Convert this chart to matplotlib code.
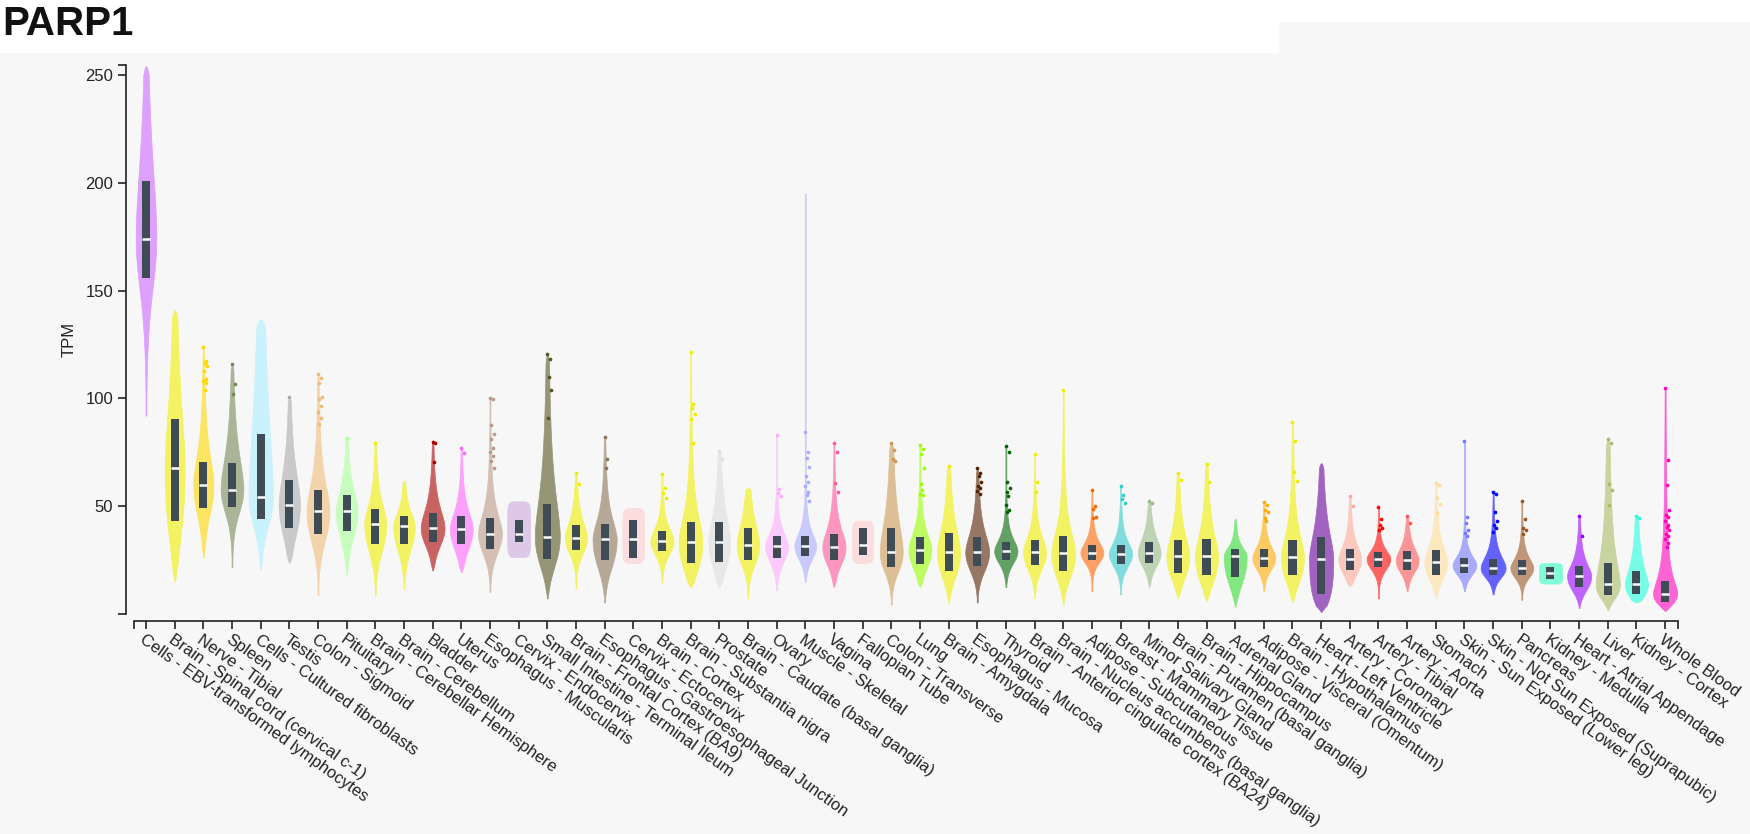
import numpy as np
import matplotlib
matplotlib.use("Agg")
import matplotlib.pyplot as plt
from matplotlib.patches import Rectangle
from matplotlib.colors import to_rgb

plt.rcParams['font.family'] = ['Liberation Sans', 'DejaVu Sans']

gene = "PARP1"

tissues = [
    "Cells - EBV-transformed lymphocytes", "Brain - Spinal cord (cervical c-1)", "Nerve - Tibial", "Spleen",
    "Cells - Cultured fibroblasts", "Testis", "Colon - Sigmoid", "Pituitary",
    "Brain - Cerebellar Hemisphere", "Brain - Cerebellum", "Bladder", "Uterus",
    "Esophagus - Muscularis", "Cervix - Endocervix", "Small Intestine - Terminal Ileum",
    "Brain - Frontal Cortex (BA9)", "Esophagus - Gastroesophageal Junction", "Cervix - Ectocervix",
    "Brain - Cortex", "Brain - Substantia nigra", "Prostate", "Brain - Caudate (basal ganglia)",
    "Ovary", "Muscle - Skeletal", "Vagina", "Fallopian Tube", "Colon - Transverse", "Lung",
    "Brain - Amygdala", "Esophagus - Mucosa", "Thyroid", "Brain - Anterior cingulate cortex (BA24)",
    "Brain - Nucleus accumbens (basal ganglia)", "Adipose - Subcutaneous", "Breast - Mammary Tissue",
    "Minor Salivary Gland", "Brain - Putamen (basal ganglia)", "Brain - Hippocampus", "Adrenal Gland",
    "Adipose - Visceral (Omentum)", "Brain - Hypothalamus", "Heart - Left Ventricle", "Artery - Coronary",
    "Artery - Tibial", "Artery - Aorta", "Stomach", "Skin - Sun Exposed (Lower leg)",
    "Skin - Not Sun Exposed (Suprapubic)", "Pancreas", "Kidney - Medulla", "Heart - Atrial Appendage",
    "Liver", "Kidney - Cortex", "Whole Blood",
]

colors = [
    "#CC66FF", "#EEEE00", "#FFD700", "#778855", "#AAEEFF", "#AAAAAA", "#EEBB77", "#AAFF99",
    "#EEEE00", "#EEEE00", "#AA0000", "#FF66FF", "#BB9988", "#CCAADD", "#555522", "#EEEE00",
    "#8B7355", "#FFCCCC", "#EEEE00", "#EEEE00", "#DDDDDD", "#EEEE00", "#FFAAFF", "#AAAAFF",
    "#FF5599", "#FFCCCC", "#CC9955", "#99FF00", "#EEEE00", "#552200", "#006600", "#EEEE00",
    "#EEEE00", "#FF6600", "#33CCCC", "#99BB88", "#EEEE00", "#EEEE00", "#33DD33", "#FFAA00",
    "#EEEE00", "#660099", "#FFAA99", "#FF0000", "#FF5555", "#FFDD99", "#7777FF", "#0000FF",
    "#995522", "#33FFC2", "#9900FF", "#AABB66", "#22FFDD", "#FF00BB",
]

# TPM values
tpm_min = [92, 15, 26.4, 21.8, 20.7, 23.7, 8.7, 18, 8.7, 11.8, 20.3, 19.5, 10.3, 26.4, 7.2, 11.8,
           5.4, 23.7, 14.6, 12.6, 12.6, 7.2, 11, 14.9, 12.6, 23.7, 4.4, 12.6, 4.9, 5.4, 12.6, 7.5,
           4.4, 10.6, 9.1, 12.6, 7.5, 6.0, 3.4, 10.6, 5.4, 1.0, 13.0, 7.2, 10.6, 7.5, 10.6, 9.1,
           6.6, 14.1, 2.9, 1.8, 5.4, 1.4]
tpm_q1 = [156, 43.3, 49, 49.5, 44.1, 39.8, 37.2, 38.4, 32.3, 32.3, 33.6, 32.3, 30.3, 33.6, 25.7, 29.8,
          24.9, 26.0, 29.1, 23.7, 24.2, 25.2, 26, 26.9, 24.9, 27.5, 21.8, 23.4, 20.0, 22.1, 24.9, 22.6,
          19.8, 24.9, 23.4, 23.7, 19.2, 17.9, 17.2, 21.8, 17.9, 9.1, 20.3, 21.8, 20.6, 18.3, 19.2, 17.9,
          17.9, 16.0, 12.6, 8.8, 9.1, 5.7]
tpm_median = [174, 67.6, 59.8, 57.6, 54.4, 50.7, 47.6, 47.6, 41.8, 40.6, 39.8, 39.5, 37.2, 37.2, 35.9, 35.2,
              34.6, 34.6, 33.7, 33.4, 33.4, 31.8, 31.5, 31.5, 31.0, 31.8, 28.7, 29.9, 28.7, 28.7, 29.2, 28.7,
              28.4, 28.4, 27.9, 28.4, 26.9, 26.7, 26.9, 25.9, 26.4, 25.6, 25.3, 25.6, 24.9, 24.1, 22.6, 21.3,
              21.3, 18.8, 17.7, 13.7, 13.7, 9.5]
tpm_q3 = [201, 90.2, 70.6, 69.8, 83.6, 62.1, 57.5, 55.2, 48.7, 45.6, 46.7, 45.6, 44.4, 43.8, 51.2, 41.1,
          41.8, 43.8, 38.3, 42.6, 42.6, 39.8, 36.1, 36.1, 37.2, 39.8, 39.8, 35.6, 37.5, 35.6, 33.4, 34.2,
          36.1, 32.1, 32.1, 33.6, 34.2, 34.9, 30.0, 30.0, 34.2, 35.6, 30.3, 28.7, 29.1, 29.5, 26.0, 25.6,
          24.9, 21.8, 22.1, 23.7, 19.8, 15.2]
tpm_max = [254, 141, 124, 115.9, 136.7, 100.7, 111.5, 81.8, 79.5, 61.8, 79.8, 77.2, 100.2, 52.3, 120.5, 65.4,
           82.3, 49.2, 64.9, 121.5, 75.6, 58.7, 83, 195, 79.2, 43.3, 79.2, 78.4, 68.7, 67.5, 78.0, 74.4,
           104.1, 57.6, 59.5, 52.6, 65.6, 69.5, 44.1, 52.1, 89.2, 69.9, 54.9, 49.5, 45.6, 60.6, 80.2, 56.4,
           52.6, 23.7, 45.3, 81.0, 45.6, 104.9]

outliers = [
    [], [], [124, 117.5, 116.4, 114.9, 112.6, 108.8, 108, 107.2, 103.8], [115.9, 106.7, 101.9],
    [], [100.7], [111.5, 109.5, 107, 100.7, 99.5, 96.4, 93.5, 91, 87.9], [81.8],
    [79.5], [], [79.8, 79.2, 70.7], [77.2, 74.6],
    [100.2, 99.5, 87.5, 83.4, 81, 77.2, 74.9, 73.3, 71, 67.9], [], [120.5, 118.2, 110.1, 104.1, 91.0], [65.4, 60.3],
    [82.3, 71.8, 67.6], [], [64.9, 58.4, 56, 53.9], [121.5, 97.2, 95.5, 92.6, 90.6, 79.5],
    [75.6, 71.8], [], [83.0, 57.8, 56, 54.6], [84.4, 74.9, 72.2, 68, 64.2, 61.4, 59.5, 56.8, 55, 52.6],
    [79.2, 74.9, 60.6, 56.4], [], [79.2, 76.1, 71.8, 71.0], [78.4, 76.4, 74.1, 67.9, 60.3, 57.5, 55.8, 55.0],
    [68.7], [67.5, 65.4, 63.8, 61.4, 59.5, 58.4, 57, 55.7], [78.0, 75.3, 61.4, 58.4, 56.8, 54.7, 50.4, 48.4, 47.4],
    [74.4, 61.0, 56.4],
    [104.1], [57.6, 50.3, 48.5, 45.2, 44.4], [59.5, 55.0, 53.3, 51.5], [52.6, 51.5],
    [65.6, 62.1], [69.5, 61.0], [], [52.1, 50.4, 48.4, 47.2, 44.6, 43.3],
    [89.2, 80.2, 66.0, 61.8], [], [54.9, 49.9], [49.5, 43.9, 41.5, 40.0, 39.0],
    [45.6, 42.3], [60.6, 60.0, 53.9, 51.0, 46.9], [80.2, 45.2, 42.3, 38.9, 37.5, 36.0],
    [56.4, 55.6, 47.4, 43.0, 41.3, 39.7, 38.0],
    [52.6, 44.1, 39.8, 38.8, 37.0], [], [45.3, 36.4], [81.0, 79.5, 60.3, 57.6, 50.7],
    [45.6, 44.6], [104.9, 71.5, 59.8, 48, 46, 45, 43, 41.5, 40.5, 39, 37, 36, 35, 33, 31],
]

small_sample = ["Cervix - Endocervix", "Cervix - Ectocervix", "Fallopian Tube", "Kidney - Medulla"]

violin_width = [0.72, 0.70, 0.70, 0.79, 0.85, 0.74, 0.80, 0.76, 0.77, 0.75, 0.83, 0.80, 0.83, 0.80, 0.87, 0.77,
                0.84, 0.76, 0.81, 0.83, 0.76, 0.79, 0.80, 0.76, 0.81, 0.73, 0.80, 0.80, 0.80, 0.83, 0.81, 0.80,
                0.83, 0.80, 0.81, 0.80, 0.80, 0.80, 0.80, 0.80, 0.80, 0.84, 0.80, 0.83, 0.80, 0.80, 0.83, 0.87,
                0.80, 0.80, 0.84, 0.84, 0.80, 0.84]

W, H = 1750, 834
BG = "#f7f7f7"
fig = plt.figure(figsize=(W / 100, H / 100), dpi=100, facecolor=BG)
fig.patches.append(Rectangle((0, 1 - 53 / H), 1279 / W, 53 / H, transform=fig.transFigure,
                             facecolor="white", edgecolor="none", zorder=0))
fig.patches.append(Rectangle((1279 / W, 1 - 22 / H), (W - 1279) / W, 22 / H, transform=fig.transFigure,
                             facecolor="white", edgecolor="none", zorder=0))

fig.text(2 / W, 1 - 5 / H, gene, fontsize=29, fontweight="bold", ha="left", va="top", color="#111111")

ax = fig.add_axes([134 / W, (H - 614) / H, 1544 / W, 549 / H])
ax.set_facecolor("none")

n = len(tissues)
pos = np.arange(n)
bg = np.array(to_rgb(BG))

vpstats = []
for i in range(n):
    lo, hi, m = tpm_min[i], tpm_max[i], tpm_median[i]
    ys = np.linspace(lo, hi, 400)
    if tissues[i] in small_sample:
        t = np.abs(2 * (ys - (lo + hi) / 2) / (hi - lo))
        v = np.clip(1 - t ** 6, 0, 1) ** (1 / 6)
    else:
        sl = np.log(m / tpm_q1[i]) / 0.674
        su = np.log(tpm_q3[i] / m) / 0.674
        z = np.log(ys / m)
        s = np.where(z < 0, sl, su)
        v = (1 + (z / s) ** 2 / 3) ** (-2.0)
        tl = np.clip((ys - lo) / (0.12 * (m - lo)), 0, 1) ** 0.5
        th = np.clip((hi - ys) / (0.05 * (hi - m)), 0, 1) ** 0.5
        v = np.maximum(v * tl * th, 0.04)
    vpstats.append(dict(coords=ys, vals=v, mean=m, median=m, min=lo, max=hi))

parts = ax.violin(vpstats, positions=pos, widths=violin_width, showmeans=False,
                  showextrema=False, showmedians=False)
for i, body in enumerate(parts["bodies"]):
    fill = 0.6 * np.array(to_rgb(colors[i])) + 0.4 * bg
    body.set_facecolor(fill)
    body.set_edgecolor(fill)
    body.set_linewidth(0.5)
    body.set_alpha(1)
    body.set_zorder(2)

q1 = np.array(tpm_q1)
q3 = np.array(tpm_q3)
ax.bar(pos, q3 - q1, bottom=q1, width=0.28, color="#3f4b55", edgecolor="none", zorder=3)
ax.hlines(tpm_median, pos - 0.14, pos + 0.14, colors="white", linewidth=1.8, zorder=4)

jit = [0.0, 0.1, 0.05, 0.14, 0.03, 0.09]
for i in range(n):
    ys = outliers[i]
    if ys:
        xs = [pos[i] + jit[k % len(jit)] for k in range(len(ys))]
        ax.scatter(xs, ys, s=7, color=colors[i], linewidths=0, zorder=5)

xl = (-0.419, 53.45)
yl = (0, 254.6)
ax.set_xlim(*xl)
ax.set_ylim(*yl)

for s in ("top", "right"):
    ax.spines[s].set_visible(False)
ax.spines["left"].set_position(("outward", 6))
ax.spines["bottom"].set_position(("outward", 5))
for s in ("left", "bottom"):
    ax.spines[s].set_color("#222222")
    ax.spines[s].set_linewidth(1.2)

ax.set_yticks([0, 50, 100, 150, 200, 250, yl[1]])
ax.set_yticklabels(["", "50", "100", "150", "200", "250", ""])
ax.set_xticks([xl[0]] + list(pos) + [xl[1]])
ax.set_xticklabels([""] + tissues + [""])
ax.tick_params(axis="both", direction="out", length=6, width=1.2, color="#222222",
               labelcolor="#222222")
ax.tick_params(axis="y", labelsize=12, pad=3)
ax.tick_params(axis="x", labelsize=12, pad=2)
for lab in ax.get_xticklabels():
    lab.set_rotation(-35.5)
    lab.set_ha("left")
    lab.set_va("top")
    lab.set_rotation_mode("anchor")

fig.text(69 / W, 1 - 339 / H, "TPM", rotation=90, fontsize=12, ha="center", va="center", color="#222222")

fig.savefig("out.png", dpi=100, facecolor=BG)
